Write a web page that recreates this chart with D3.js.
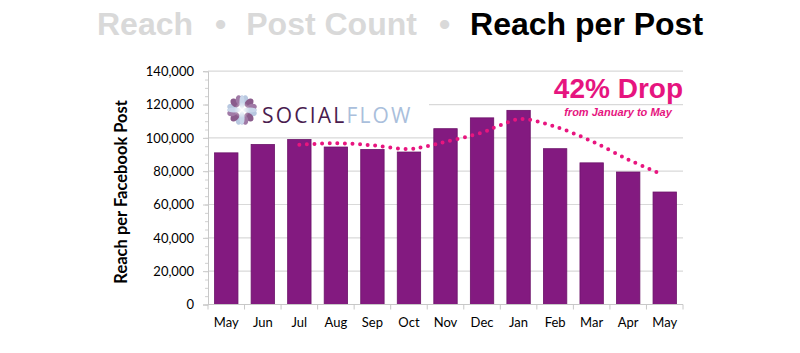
<!DOCTYPE html>
<html>
<head>
<meta charset="utf-8">
<script src="https://cdn.jsdelivr.net/npm/d3@7"></script>
<style>
  html, body { margin: 0; padding: 0; background: #fff; }
  svg { display: block; }
</style>
</head>
<body>
<div id="chart"></div>
<script>
// Monthly reach per Facebook post (May through the following May).
const months = ['May', 'Jun', 'Jul', 'Aug', 'Sep', 'Oct', 'Nov', 'Dec', 'Jan', 'Feb', 'Mar', 'Apr', 'May'];
const reachPerPost = [91000, 96000, 99000, 94500, 93000, 91500, 105500, 112000, 116500, 93500, 85000, 79500, 67500];

// Dotted trend line, position given as a (fractional) month index.
const trendIndex = [2, 3, 4, 5, 5.5, 6, 7, 7.5, 8.05, 9, 10, 11, 11.8];
const trendValue = [95800, 96800, 95500, 93300, 95100, 97600, 103200, 107600, 111300, 106700, 98000, 87000, 79200];

const yTicks = [0, 20000, 40000, 60000, 80000, 100000, 120000, 140000];
const titleParts = ['Reach', 'Post Count', 'Reach per Post'];

const W = 800, H = 353;
const plot = { left: 208, right: 683, top: 71.2, bottom: 304.5 };

const svg = d3.select('#chart').append('svg')
  .attr('width', W).attr('height', H);

const x = d3.scaleBand()
  .domain(d3.range(months.length))
  .range([plot.left, plot.right])
  .paddingInner(0.36)
  .paddingOuter(0.18);

const y = d3.scaleLinear()
  .domain([0, 140000])
  .range([plot.bottom, plot.top]);

// Title
const title = svg.append('text')
  .attr('x', 97).attr('y', 34.5)
  .attr('font-family', 'Liberation Sans, Arial, sans-serif')
  .attr('font-weight', 'bold')
  .attr('font-size', 32);
titleParts.forEach((t, i) => {
  title.append('tspan')
    .attr('fill', i === titleParts.length - 1 ? '#000' : '#d9d9d9')
    .attr('dx', i === 0 ? 0 : 20)
    .text(t);
  if (i < titleParts.length - 1) {
    title.append('tspan').attr('fill', '#d9d9d9').attr('dx', 22).text('\u2022');
  }
});

// Gridlines
svg.append('g')
  .selectAll('line')
  .data(yTicks.filter(d => d > 0))
  .join('line')
  .attr('x1', plot.left).attr('x2', plot.right)
  .attr('y1', d => y(d)).attr('y2', d => y(d))
  .attr('stroke', '#d9d9d9').attr('stroke-width', 1.2);

// Y axis: major ticks with labels plus minor ticks
const yAxis = svg.append('g')
  .attr('transform', `translate(${plot.left},0)`)
  .call(d3.axisLeft(y).tickValues(yTicks).tickSize(5).tickPadding(9)
    .tickFormat(d3.format(',')));
yAxis.select('.domain').attr('stroke', '#c8c8c8');
yAxis.selectAll('.tick line').attr('stroke', '#c8c8c8');
yAxis.selectAll('.tick text')
  .attr('font-family', 'Lato, sans-serif')
  .attr('font-size', 13)
  .attr('fill', '#000');

svg.append('g')
  .attr('transform', `translate(${plot.left},0)`)
  .call(d3.axisLeft(y).tickValues(d3.range(0, 140001, 5000)).tickSize(3).tickFormat(''))
  .call(g => g.select('.domain').remove())
  .selectAll('line').attr('stroke', '#d0d0d0');

// Y axis title
svg.append('text')
  .attr('transform', `translate(127,${(plot.top + plot.bottom) / 2 + 4}) rotate(-90)`)
  .attr('text-anchor', 'middle')
  .attr('font-family', 'Lato, sans-serif')
  .attr('font-weight', 'bold')
  .attr('font-size', 16.5)
  .text('Reach per Facebook Post');

// Bars
svg.append('g')
  .selectAll('rect')
  .data(reachPerPost)
  .join('rect')
  .attr('x', (d, i) => x(i))
  .attr('width', x.bandwidth())
  .attr('y', d => y(d))
  .attr('height', d => y(0) - y(d))
  .attr('fill', '#831a80')
  .attr('stroke', '#6c1269')
  .attr('stroke-width', 0.8);

// X axis baseline and ticks at band boundaries
const step = x.step();
const edges = d3.range(months.length + 1).map(i => plot.left + i * (plot.right - plot.left) / months.length);
svg.append('line')
  .attr('x1', plot.left).attr('x2', plot.right)
  .attr('y1', plot.bottom).attr('y2', plot.bottom)
  .attr('stroke', '#c8c8c8');
svg.append('g')
  .selectAll('line')
  .data(edges)
  .join('line')
  .attr('x1', d => d).attr('x2', d => d)
  .attr('y1', plot.bottom).attr('y2', plot.bottom + 5)
  .attr('stroke', '#c8c8c8');

svg.append('g')
  .selectAll('text')
  .data(months)
  .join('text')
  .attr('x', (d, i) => x(i) + x.bandwidth() / 2)
  .attr('y', 327)
  .attr('text-anchor', 'middle')
  .attr('font-family', 'Lato, sans-serif')
  .attr('font-size', 13)
  .text(d => d);

// Dotted trend
const cx = i => x(0) + x.bandwidth() / 2 + i * step;
const trendLine = d3.line()
  .x(d => cx(d[0]))
  .y(d => y(d[1]))
  .curve(d3.curveCatmullRom.alpha(0.5));
svg.append('path')
  .datum(trendIndex.map((t, i) => [t, trendValue[i]]))
  .attr('d', trendLine)
  .attr('fill', 'none')
  .attr('stroke', '#e8157f')
  .attr('stroke-width', 4)
  .attr('stroke-linecap', 'round')
  .attr('stroke-dasharray', '0 7.6');

// Annotation
svg.append('text')
  .attr('x', 683).attr('y', 98)
  .attr('text-anchor', 'end')
  .attr('font-family', 'Liberation Sans, Arial, sans-serif')
  .attr('font-weight', 'bold')
  .attr('font-size', 28)
  .attr('fill', '#e6157f')
  .text('42% Drop');
svg.append('text')
  .attr('x', 618).attr('y', 116)
  .attr('text-anchor', 'middle')
  .attr('font-family', 'Liberation Sans, Arial, sans-serif')
  .attr('font-weight', 'bold')
  .attr('font-style', 'italic')
  .attr('font-size', 11)
  .attr('fill', '#e6157f')
  .text('from January to May');

// SocialFlow logo on a white patch (hides the gridline behind it)
const logo = svg.append('g');
logo.append('rect')
  .attr('x', plot.left + 1).attr('y', 92).attr('width', 220).attr('height', 36)
  .attr('fill', '#fff');
const flower = logo.append('g').attr('transform', 'translate(242,110)');
d3.range(12).forEach(k => {
  const a = k * 30 + 15;
  const purple = [1, 2, 4, 5, 7, 8, 10, 11].includes(k) ? (k % 3 === 1 ? '#8a5c8c' : '#a07aa6') : '#b8c8e0';
  flower.append('ellipse')
    .attr('cx', 0).attr('cy', -10)
    .attr('rx', 3.6).attr('ry', 5.2)
    .attr('transform', `rotate(${a})`)
    .attr('fill', purple);
});
d3.range(4).forEach(k => {
  flower.append('ellipse')
    .attr('cx', 0).attr('cy', -8)
    .attr('rx', 2.6).attr('ry', 7)
    .attr('transform', `rotate(${k * 90})`)
    .attr('fill', '#c9d6ea');
});
const glow = svg.append('defs').append('radialGradient').attr('id', 'glow');
glow.append('stop').attr('offset', '0%').attr('stop-color', '#fff').attr('stop-opacity', 1);
glow.append('stop').attr('offset', '100%').attr('stop-color', '#fff').attr('stop-opacity', 0);
flower.append('circle').attr('r', 8).attr('fill', 'url(#glow)');

const logoText = logo.append('text')
  .attr('x', 262).attr('y', 122.5)
  .attr('font-family', 'Open Sans, sans-serif')
  .attr('font-size', 21)
  .attr('letter-spacing', 2.2);
logoText.append('tspan').attr('fill', '#4a1c4f').text('SOCIAL');
logoText.append('tspan').attr('fill', '#aabfdc').text('FLOW');
</script>
</body>
</html>
